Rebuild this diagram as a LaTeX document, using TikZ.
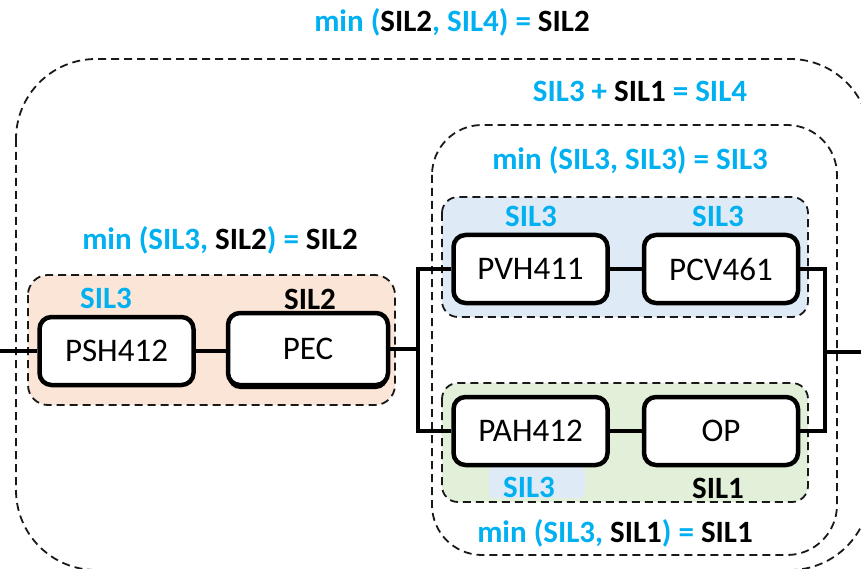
\documentclass[tikz,border=0pt]{standalone}
\usepackage{fontspec}
\setmainfont{Carlito}
\definecolor{silblue}{HTML}{00B0F0}
\definecolor{fillblue}{HTML}{DEEBF7}
\definecolor{fillgreen}{HTML}{E2F0D9}
\definecolor{fillorange}{HTML}{FBE5D6}
\newcommand{\bl}[1]{\textcolor{silblue}{#1}}
\tikzset{
  groupline/.style={draw=black!90, line width=1.8pt, dash pattern=on 8pt off 5pt},
  unitbox/.style={draw=black, fill=white, line width=4.5pt, rounded corners=12pt,
    minimum width=154pt, minimum height=68pt, inner sep=0pt,
    font=\fontsize{33}{33}\selectfont},
  wire/.style={draw=black, line width=4pt},
  lbl/.style={anchor=base, inner sep=0pt, font=\bfseries\fontsize{31}{31}\selectfont},
}
\begin{document}
\begin{tikzpicture}[x=1pt,y=-1pt]
\useasboundingbox (0,0) rectangle (861,569);
\clip (0,0) rectangle (861,569);

% enclosing groups
\draw[groupline, rounded corners=80pt] (16,59) rectangle (870,570);
\draw[groupline, rounded corners=50pt] (432,125) rectangle (837,555);

% coloured sub-groups
\draw[groupline, fill=fillorange, rounded corners=20pt] (28,275) rectangle (395,405);
\draw[groupline, fill=fillblue, rounded corners=16pt] (442,197) rectangle (808,317);
\draw[groupline, fill=fillgreen, rounded corners=16pt] (442,383) rectangle (808,502);
\fill[fillblue, rounded corners=4pt] (489,467) rectangle (585,498);

% wiring points
\coordinate (inL) at (0,351);
\coordinate (splitL) at (418,349);
\coordinate (splitR) at (825,352);
\coordinate (outR) at (861,352);

% units
\fill[black, rounded corners=12pt] (228,316) rectangle (388,389);
\node[unitbox] (psh) at (116.5,351) {PSH412};
\node[unitbox, minimum width=160pt, minimum height=72pt] (pec) at (308,349) {PEC};
\node[unitbox] (pvh) at (530.5,269) {PVH411};
\node[unitbox] (pcv) at (721,269) {PCV461};
\node[unitbox] (pah) at (530.5,431) {PAH412};
\node[unitbox] (op) at (721,431) {OP};

\draw[wire] (inL) -- (psh.west);
\draw[wire] (psh.east) -- (psh.east -| pec.west);
\draw[wire] (pec.east) -- (splitL);
\draw[wire] (pvh.west) -| (splitL) |- (pah.west);
\draw[wire] (pvh.east) -- (pcv.west);
\draw[wire] (pah.east) -- (op.west);
\draw[wire] (pcv.east) -| (splitR) |- (op.east);
\draw[wire, line width=3.5pt] (splitR) -- (outR);

% SIL labels
\node[lbl] (t0) at (452,32) {\bl{min (}SIL2\bl{, SIL4) =} SIL2};
\node[lbl] (t1) at (640,102) {\bl{SIL3 +} SIL1 \bl{= SIL4}};
\node[lbl] (t2) at (630,170) {\bl{min (SIL3, SIL3) = SIL3}};
\node[lbl] (t3) at (220,249) {\bl{min (SIL3,} SIL2\bl{) =} SIL2};
\node[lbl] (s1) at (106,308) {\bl{SIL3}};
\node[lbl] (s2) at (310,309) {SIL2};
\node[lbl] (s3) at (531,227) {\bl{SIL3}};
\node[lbl] (s4) at (718,227) {\bl{SIL3}};
\node[lbl] (s5) at (529,497) {\bl{SIL3}};
\node[lbl] (s6) at (718,498) {SIL1};
\node[lbl] (t4) at (615,542) {\bl{min (SIL3,} SIL1\bl{) =} SIL1};
\end{tikzpicture}
\end{document}
